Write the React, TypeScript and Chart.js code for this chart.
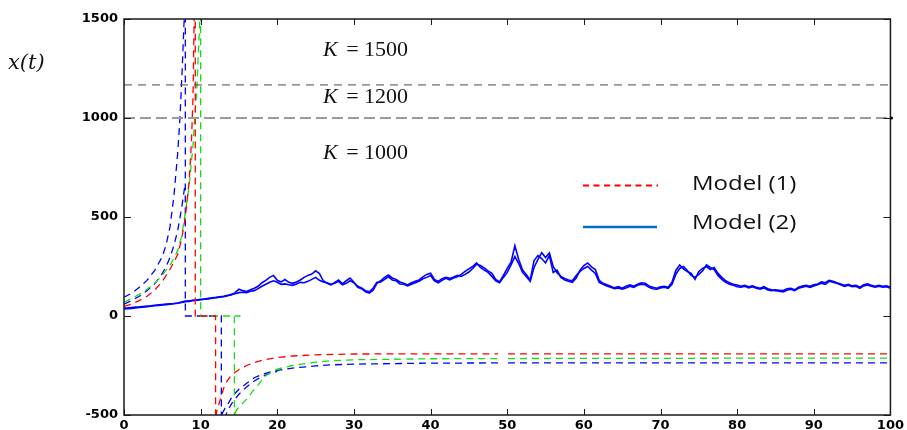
import React, { useEffect, useRef } from "react";
import { Chart, registerables } from "chart.js";

Chart.register(...registerables);

// Axis ticks
const xTickValues = [0, 10, 20, 30, 40, 50, 60, 70, 80, 90, 100];
const yTickValues = [-500, 0, 500, 1000, 1500];

// Carrying-capacity reference lines
const kLineLow = 1000;
const kLineHigh = 1167;
const kTexts = ["1500", "1200", "1000"];
const legendTexts = ["Model (1)", "Model (2)"];

// Model (1) – red
const redT = [0, 1, 2, 3, 4, 5, 6, 7, 7.5, 8, 8.5, 8.8, 9.0, 9.15, 9.3, 9.3, 11.95, 11.95, 12.1, 12.5, 13, 13.5, 14, 15, 16, 17, 18, 19, 20, 22, 25, 30, 40, 48.8, 49.5, 50.1, 60, 70, 80, 90, 100];
const redV = [48, 60, 78, 100, 130, 175, 235, 310, 385, 500, 680, 880, 1100, 1500, 1700, 0, 0, -520, -480, -430, -365, -325, -300, -270, -250, -235, -224, -216, -210, -202, -196, -192, -191, -191, null, -191, -191, -191, -191, -191, -191];

// Model (1) – green
const greenT = [0, 1, 2, 3, 4, 5, 6, 7, 7.5, 8, 8.5, 9, 9.5, 9.9, 10.0, 10.0, 15.2, 14.4, 14.4, 14.6, 15, 15.5, 16, 16.5, 17, 17.5, 18, 18.5, 19, 20, 22, 25, 27, 30, 40, 48.8, 49.5, 50.1, 60, 70, 80, 90, 100];
const greenV = [70, 88, 110, 135, 165, 205, 255, 330, 400, 520, 660, 860, 1150, 1500, 1700, 0, 0, 0, -520, -480, -460, -440, -420, -395, -370, -348, -322, -302, -288, -268, -250, -233, -226, -221, -216, -215, null, -215, -214, -214, -213, -213, -213];

// Model (1) – blue (outer)
const blueT = [0, 1, 2, 3, 4, 5, 5.5, 6, 6.5, 7, 7.3, 7.6, 7.9, 8.0, 8.0, 12.7, 12.7, 12.85, 13.2, 13.5, 14, 14.5, 15, 15.5, 16, 17, 18, 19, 20, 22, 25, 27, 30, 40, 48.8, 49.5, 50.1, 60, 70, 80, 90, 100];
const blueV = [95, 115, 145, 180, 230, 300, 360, 450, 600, 820, 1000, 1250, 1550, 1700, 0, 0, -520, -490, -465, -448, -415, -390, -370, -355, -340, -312, -295, -283, -275, -263, -252, -247, -243, -238, -237, null, -237, -237, -237, -237, -237, -237];

// Model (1) – blue (inner)
const blue2T = [0, 1, 2, 3, 4, 5, 5.5, 6, 6.5, 7, 7.5, 7.95, 10, 13.1, 13.5, 14, 14.5, 15, 16, 17, 18, 19, 20];
const blue2V = [60, 78, 100, 128, 162, 215, 250, 295, 355, 430, 540, 660, null, -520, -480, -445, -418, -395, -358, -328, -306, -290, -280];

// Model (2) – two sample paths, sampled every 0.5 time units
const pathA = [
  35, 37, 38, 40, 43, 44, 47, 49, 52, 53, 56, 57, 60, 62, 64, 68, 72, 74, 78, 80,
  82, 85, 86, 90, 92, 95, 98, 102, 106, 118, 135, 128, 124, 132, 140, 150, 168, 180, 195, 205,
  180, 172, 184, 170, 165, 172, 182, 195, 205, 212, 228, 214, 178, 165, 157, 170, 182, 162, 178, 192,
  170, 145, 138, 122, 116, 130, 165, 178, 195, 207, 192, 185, 172, 165, 157, 168, 175, 182, 198, 210,
  216, 185, 175, 188, 195, 190, 197, 205, 200, 210, 222, 240, 262, 255, 243, 228, 215, 185, 172, 205,
  240, 272, 355, 285, 232, 208, 182, 280, 305, 290, 268, 305, 220, 232, 195, 182, 176, 170, 192, 232,
  255, 268, 248, 235, 180, 165, 158, 150, 142, 148, 140, 150, 157, 150, 160, 168, 165, 152, 145, 140,
  148, 150, 145, 170, 230, 258, 238, 225, 215, 185, 225, 240, 250, 235, 245, 215, 195, 178, 168, 160,
  157, 150, 155, 148, 152, 145, 140, 148, 138, 132, 128, 125, 122, 130, 135, 128, 140, 145, 150, 145,
  152, 158, 165, 160, 175, 170, 165, 158, 150, 155, 148, 150, 140, 152, 157, 150, 145, 150, 145, 148,
  140
];
const pathB = [
  40, 41, 43, 45, 46, 48, 50, 51, 54, 56, 58, 60, 61, 63, 66, 70, 75, 77, 79, 81,
  84, 86, 89, 92, 94, 97, 100, 104, 110, 112, 118, 120, 118, 125, 128, 138, 150, 160, 170, 178,
  170, 160, 162, 158, 155, 162, 170, 168, 175, 185, 195, 180, 172, 168, 160, 165, 175, 158, 165, 178,
  168, 150, 142, 128, 122, 140, 170, 172, 185, 198, 182, 178, 162, 160, 152, 160, 168, 175, 188, 195,
  205, 178, 168, 180, 190, 182, 192, 198, 210, 225, 238, 250, 268, 245, 232, 220, 200, 178, 168, 195,
  220, 258, 300, 265, 220, 198, 175, 245, 285, 320, 295, 318, 250, 218, 200, 190, 182, 178, 205, 225,
  240, 250, 232, 215, 170, 160, 152, 145, 138, 142, 135, 142, 150, 145, 155, 160, 158, 145, 138, 135,
  142, 145, 140, 160, 210, 240, 250, 230, 205, 195, 210, 228, 258, 245, 235, 205, 185, 170, 160, 155,
  148, 145, 150, 142, 148, 140, 135, 142, 132, 128, 132, 130, 128, 138, 140, 132, 145, 152, 155, 150,
  158, 162, 172, 168, 180, 175, 168, 162, 155, 160, 152, 155, 145, 158, 162, 155, 150, 155, 150, 152,
  145
];
const pathStep = 0.5;

const toXY = (ts: number[], vs: (number | null)[]) => ts.map((t, i) => ({ x: t, y: vs[i] }));

const overlayPlugin = {
  id: "overlay",
  afterDraw(chart: any) {
    const { ctx, chartArea } = chart;
    const { left, right, top, bottom } = chartArea;
    const xs = chart.scales.x;
    const ys = chart.scales.y;
    ctx.save();
    // box
    ctx.strokeStyle = "#1a1a1a";
    ctx.lineWidth = 1.5;
    ctx.setLineDash([]);
    ctx.strokeRect(left, top, right - left, bottom - top);
    // inner ticks
    ctx.lineWidth = 1;
    ctx.beginPath();
    xTickValues.forEach((v) => {
      const px = Math.round(xs.getPixelForValue(v)) + 0.5;
      ctx.moveTo(px, bottom);
      ctx.lineTo(px, bottom - 6);
      ctx.moveTo(px, top);
      ctx.lineTo(px, top + 6);
    });
    yTickValues.forEach((v) => {
      const py = Math.round(ys.getPixelForValue(v)) + 0.5;
      ctx.moveTo(left, py);
      ctx.lineTo(left + 7, py);
      ctx.moveTo(right, py);
      ctx.lineTo(right - 7, py);
    });
    ctx.stroke();
    // small dot at the right end of K line
    ctx.fillStyle = "#000";
    ctx.beginPath();
    ctx.arc(right + 1, ys.getPixelForValue(kLineLow), 1.6, 0, Math.PI * 2);
    ctx.fill();

    // K labels
    const kY = [50, 97, 153];
    kTexts.forEach((t, i) => {
      ctx.textBaseline = "middle";
      ctx.textAlign = "left";
      ctx.fillStyle = "#111";
      ctx.font = 'italic 22px "Liberation Serif"';
      ctx.fillText("K", 323, kY[i]);
      const w = ctx.measureText("K").width;
      ctx.font = '22px "Liberation Serif"';
      ctx.fillText(" = " + t, 323 + w + 3, kY[i]);
    });

    // x(t) label
    ctx.font = 'italic 21px "DejaVu Serif"';
    ctx.textBaseline = "middle";
    ctx.fillStyle = "#111";
    ctx.fillText("x(t)", 8, 64);

    // legend
    ctx.lineWidth = 2;
    ctx.strokeStyle = "#ff0000";
    ctx.setLineDash([6, 4.5]);
    ctx.beginPath();
    ctx.moveTo(583, 185.5);
    ctx.lineTo(658, 185.5);
    ctx.stroke();
    ctx.setLineDash([]);
    ctx.lineWidth = 2.5;
    ctx.strokeStyle = "#0070c0";
    ctx.beginPath();
    ctx.moveTo(583, 227);
    ctx.lineTo(657, 227);
    ctx.stroke();
    const legY = [184, 223];
    legendTexts.forEach((t, i) => {
      ctx.save();
      ctx.translate(692, legY[i]);
      ctx.scale(1.2, 1);
      ctx.font = '20px "Open Sans"';
      ctx.textBaseline = "middle";
      ctx.fillStyle = "#111";
      ctx.fillText(t, 0, 0);
      ctx.restore();
    });
    ctx.restore();
  },
};

export default function App() {
  const ref = useRef<HTMLCanvasElement | null>(null);
  useEffect(() => {
    if (!ref.current) return;
    const pathTimes = pathA.map((_, i) => i * pathStep);
    const dashed = (color: string, data: any[]) => ({
      data,
      borderColor: color,
      borderWidth: 1.3,
      borderDash: [7, 5],
      pointRadius: 0,
      tension: 0,
      spanGaps: false,
      fill: false,
    });
    const tickFont = { family: "DejaVu Sans", size: 13, weight: "bold" };
    const chart = new Chart(ref.current, {
      type: "line",
      data: {
        datasets: [
          {
            data: [{ x: 0, y: kLineHigh }, { x: 100, y: kLineHigh }],
            borderColor: "#4a4a4a",
            borderWidth: 1,
            borderDash: [8, 6],
            pointRadius: 0,
          },
          {
            data: [{ x: 0, y: kLineLow }, { x: 100, y: kLineLow }],
            borderColor: "#9a9a9a",
            borderWidth: 1.8,
            borderDash: [11, 5],
            pointRadius: 0,
          },
          dashed("#ff0000", toXY(redT, redV)),
          dashed("#10e010", toXY(greenT, greenV)),
          dashed("#0000ff", toXY(blue2T, blue2V)),
          dashed("#0000ff", toXY(blueT, blueV)),
          {
            data: toXY(pathTimes, pathB),
            borderColor: "#0000ff",
            borderWidth: 1.6,
            pointRadius: 0,
            tension: 0,
          },
          {
            data: toXY(pathTimes, pathA),
            borderColor: "#0000ff",
            borderWidth: 1.6,
            pointRadius: 0,
            tension: 0,
          },
        ] as any,
      },
      options: {
        animation: false,
        responsive: false,
        devicePixelRatio: 1,
        layout: { padding: { top: 19, right: 13, left: 0, bottom: 0 } },
        plugins: { legend: { display: false }, tooltip: { enabled: false } },
        scales: {
          x: {
            type: "linear",
            min: 0,
            max: 100,
            ticks: {
              stepSize: 10,
              padding: 3,
              color: "#000",
              font: tickFont,
              maxRotation: 0,
              callback: (v: any) => String(v),
            },
            grid: { display: false, drawTicks: false },
            border: { display: false },
            afterFit: (s: any) => {
              s.height = 15;
            },
          },
          y: {
            type: "linear",
            min: -500,
            max: 1500,
            ticks: {
              stepSize: 500,
              padding: 6,
              color: "#000",
              font: tickFont,
              callback: (v: any) => String(v),
            },
            grid: { display: false, drawTicks: false },
            border: { display: false },
            afterFit: (s: any) => {
              s.width = 124;
            },
          },
        },
      } as any,
      plugins: [overlayPlugin],
    });
    return () => chart.destroy();
  }, []);
  return (
    <div style={{ position: "absolute", left: 0, top: 0, width: 907, height: 430, background: "#fff" }}>
      <canvas ref={ref} width={907} height={430} style={{ display: "block" }} />
    </div>
  );
}
